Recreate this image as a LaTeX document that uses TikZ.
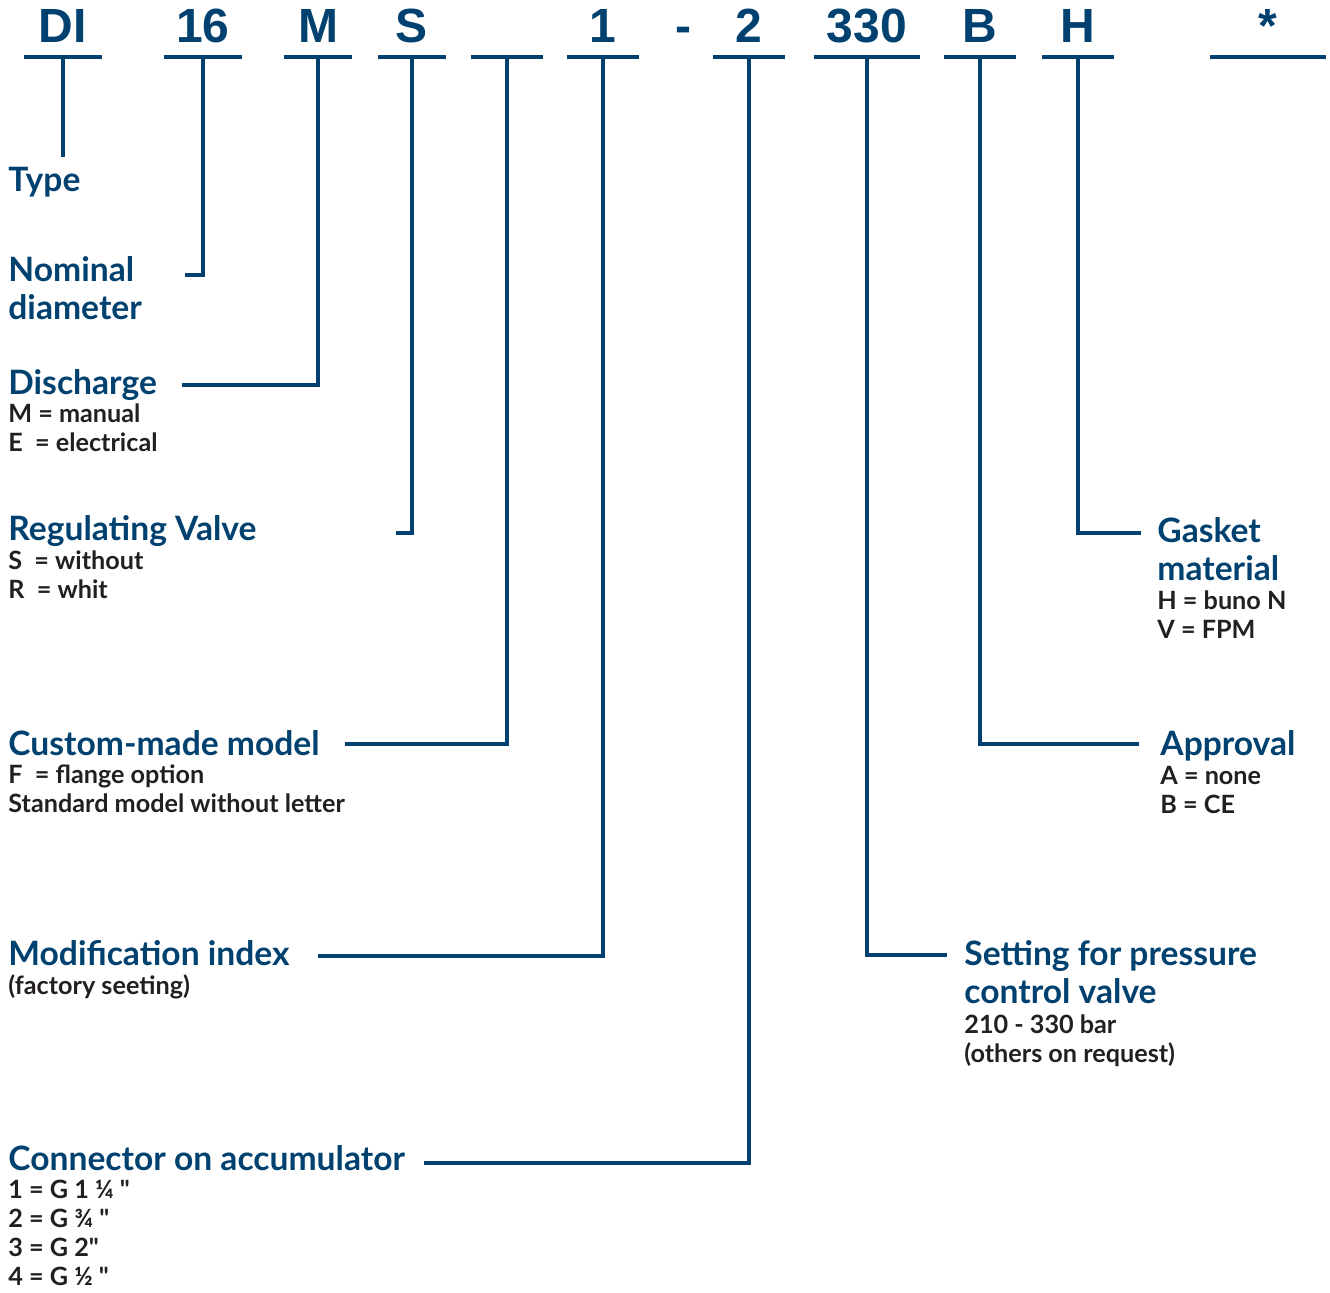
\documentclass[tikz,border=0pt]{standalone}
\usepackage{fontspec}
\setmainfont{Lato}
\newfontfamily\codefamily{Liberation Sans}
\usetikzlibrary{positioning}
\definecolor{dblue}{HTML}{00416F}
\definecolor{ink}{HTML}{231F20}
\newcommand{\rows}[1]{\begin{tabular}[t]{@{}l@{}}#1\end{tabular}}

\tikzstyle{head} = [
font=\bfseries\fontsize{16.8}{19}\selectfont,
text=dblue,
anchor=base west,
inner sep=0pt]
\tikzstyle{desc} = [
font=\bfseries\fontsize{12.6}{14.5}\selectfont,
text=ink,
anchor=base west,
inner sep=0pt]
\tikzstyle{link} = [
draw=dblue,
line width=2pt,
line join=miter]
\tikzstyle{codetext} = [
font=\codefamily\bfseries\fontsize{24}{24}\selectfont,
text=dblue,
anchor=base,
inner sep=0pt,
text height=17.5pt,
text depth=7pt]
\tikzstyle{code} = [
codetext,
append after command={(\tikzlastnode.south west) edge[link] (\tikzlastnode.south east)}]

\begin{document}
\begin{tikzpicture}[x=0.5pt, y=-0.5pt]
\useasboundingbox (0,0) rectangle (1330,1293);

% the type key
\node[code, minimum width=38.5pt] (cDI) at (63,43) {DI};
\node[code, minimum width=38.5pt] (c16) at (203,43) {16};
\node[code, minimum width=33.5pt] (cM) at (318,43) {M};
\node[code, minimum width=33.5pt] (cS) at (412,43) {S};
\node[code, minimum width=35.5pt] (cX) at (507,43) {};
\node[code, minimum width=35.5pt] (cOne) at (603,43) {1};
\node[codetext] (dash) at (683,43) {-};
\node[code, minimum width=35.5pt] (cTwo) at (749,43) {2};
\node[code, minimum width=53pt] (cSet) at (867,43) {330};
\node[code, minimum width=35.5pt] (cB) at (980,43) {B};
\node[code, minimum width=35.5pt] (cH) at (1078,43) {H};
\node[code, minimum width=57.5pt] (cStar) at (1268,43) {*};

% left column
\node[head] (type) at (8,192) {Type};
\node[head] (nominal) at (8,282) {\rows{Nominal\\diameter}};
\node[head] (discharge) at (8,395) {Discharge};
\node[desc] (dischargeKey) at (8,423) {\rows{M = manual\\E\ \ = electrical}};
\node[head] (regulating) at (8,541) {Regulating Valve};
\node[desc] (regulatingKey) at (8,570) {\rows{S\ \ = without\\R\ \ = whit}};
\node[head] (custom) at (8,756) {Custom-made model};
\node[desc] (customKey) at (8,784) {\rows{F\ \ = flange option\\Standard model without letter}};
\node[head] (modification) at (8,966) {Modification index};
\node[desc] (modificationKey) at (8,995) {(factory seeting)};
\node[head] (connector) at (8,1171) {Connector on accumulator};
\node[desc] (connectorKey) at (8,1199) {\rows{1 = G 1 ¼ \textquotedbl\\2 = G ¾ \textquotedbl\\3 = G 2\textquotedbl\\4 = G ½ \textquotedbl}};

% right column
\node[head] (gasket) at (1157,543) {\rows{Gasket\\material}};
\node[desc] (gasketKey) at (1157,610) {\rows{H = buno N\\V = FPM}};
\node[head] (approval) at (1160,756) {Approval};
\node[desc] (approvalKey) at (1160,785) {\rows{A = none\\B = CE}};
\node[head] (setting) at (964,966) {\rows{Setting for pressure\\control valve}};
\node[desc] (settingKey) at (964,1034) {\rows{210 - 330 bar\\(others on request)}};

% line ends
\coordinate (typeEnd) at (63,157);
\coordinate (nominalEnd) at (185,275);
\coordinate (dischargeEnd) at (182,385);
\coordinate (regulatingEnd) at (396,533);
\coordinate (customEnd) at (345,744);
\coordinate (modificationEnd) at (318,956);
\coordinate (connectorEnd) at (424,1163);
\coordinate (settingEnd) at (947,955);
\coordinate (approvalEnd) at (1139,744);
\coordinate (gasketEnd) at (1141,533);

\draw[link] (cDI.south) -- (typeEnd);
\draw[link] (c16.south) |- (nominalEnd);
\draw[link] (cM.south) |- (dischargeEnd);
\draw[link] (cS.south) |- (regulatingEnd);
\draw[link] (cX.south) |- (customEnd);
\draw[link] (cOne.south) |- (modificationEnd);
\draw[link] (cTwo.south) |- (connectorEnd);
\draw[link] (cSet.south) |- (settingEnd);
\draw[link] (cB.south) |- (approvalEnd);
\draw[link] (cH.south) |- (gasketEnd);

\end{tikzpicture}
\end{document}
